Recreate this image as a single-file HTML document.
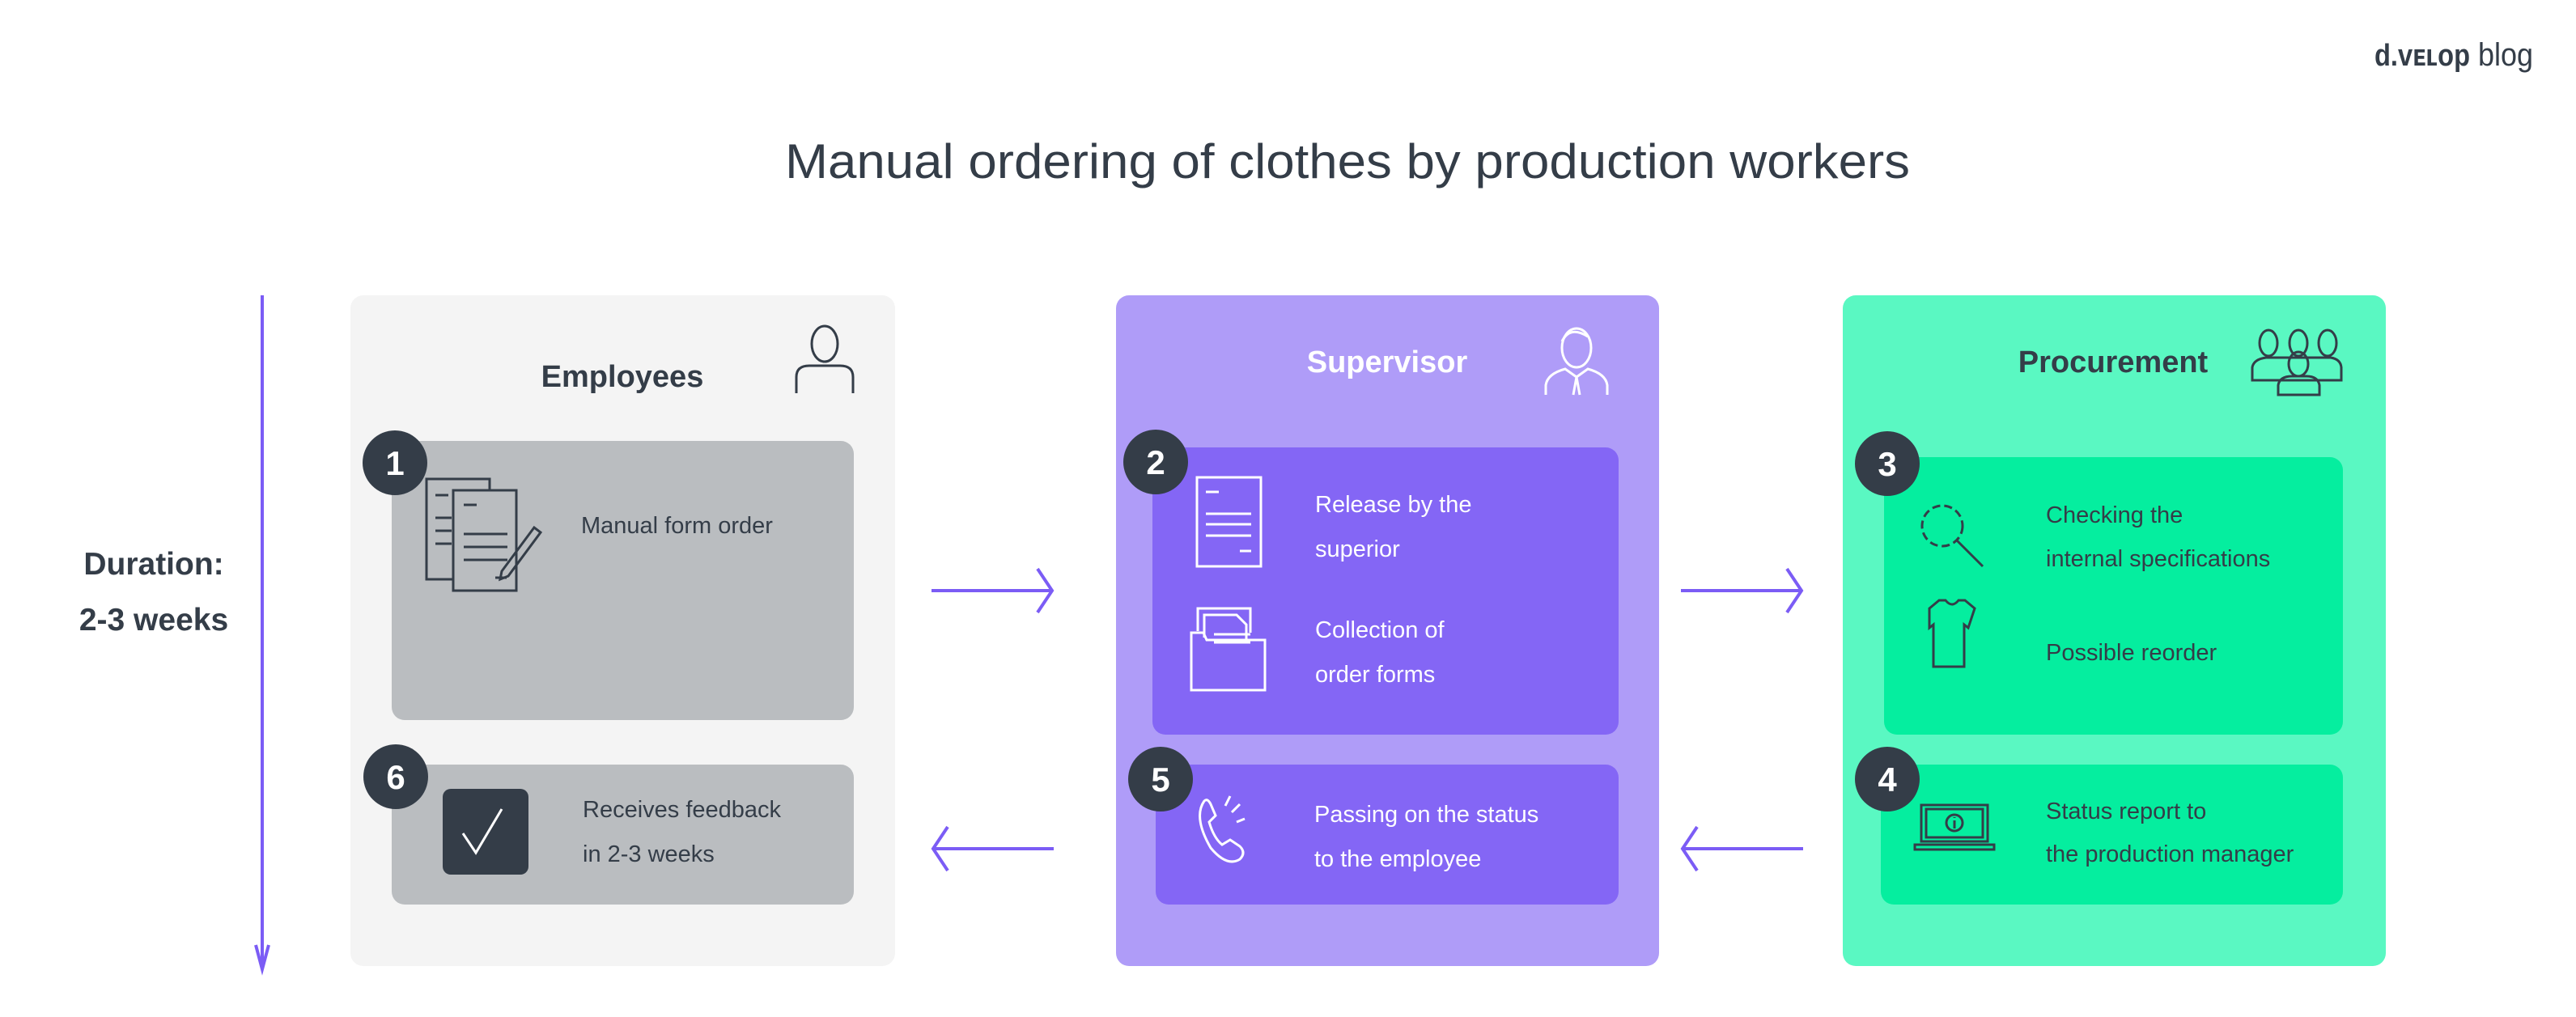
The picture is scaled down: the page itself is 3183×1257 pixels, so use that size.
<!DOCTYPE html>
<html><head><meta charset="utf-8"><style>
html,body{margin:0;padding:0;background:#fff;}
svg{display:block;}
text{font-family:"Liberation Sans",sans-serif;}
</style></head><body>
<svg width="3183" height="1257" viewBox="0 0 3183 1257" xmlns="http://www.w3.org/2000/svg">
<!-- logo -->
<text x="2934" y="81" font-size="38" fill="#343d48" font-weight="bold" textLength="118" lengthAdjust="spacingAndGlyphs">d.vᴇʟop</text>
<text x="3062" y="81" font-size="40" fill="#343d48" textLength="68" lengthAdjust="spacingAndGlyphs">blog</text>
<!-- title -->
<text x="1665" y="220" font-size="60" fill="#343d48" text-anchor="middle" textLength="1390" lengthAdjust="spacingAndGlyphs">Manual ordering of clothes by production workers</text>
<!-- duration -->
<line x1="324" y1="365" x2="324" y2="1196" stroke="#7b5cf5" stroke-width="4"/>
<polyline points="316,1168 324,1198 332,1168" fill="none" stroke="#7b5cf5" stroke-width="4"/>
<text x="190" y="710" font-size="39" font-weight="bold" fill="#343d48" text-anchor="middle">Duration:</text>
<text x="190" y="779" font-size="39" font-weight="bold" fill="#343d48" text-anchor="middle">2-3 weeks</text>
<!-- panels -->
<rect x="433" y="365" width="673" height="829" rx="16" fill="#f4f4f4"/>
<rect x="1379" y="365" width="671" height="829" rx="16" fill="#af9cf8"/>
<rect x="2277" y="365" width="671" height="829" rx="16" fill="#5af8c2"/>
<!-- headers -->
<text x="769" y="478" font-size="38" font-weight="bold" fill="#343d48" text-anchor="middle">Employees</text>
<text x="1714" y="460" font-size="38" font-weight="bold" fill="#fff" text-anchor="middle">Supervisor</text>
<text x="2611" y="460" font-size="38" font-weight="bold" fill="#343d48" text-anchor="middle">Procurement</text>
<!-- person icon -->
<g fill="none" stroke="#343d48" stroke-width="3">
<ellipse cx="1019" cy="425" rx="16" ry="22"/>
<path d="M984 486 V466 Q984 452 1000 452 H1038 Q1054 452 1054 466 V486"/>
</g>
<!-- supervisor icon -->
<g fill="none" stroke="#fff" stroke-width="3">
<ellipse cx="1948" cy="430" rx="18" ry="24"/>
<path d="M1930 422 Q1940 402 1962 416"/>
<path d="M1910 488 V476 Q1912 462 1934 456 L1948 466 L1962 456 Q1984 462 1986 476 V488"/>
<path d="M1948 466 L1944 488 M1948 466 L1952 488"/>
</g>
<!-- group icon -->
<g fill="none" stroke="#343d48" stroke-width="3">
<ellipse cx="2803" cy="424" rx="11" ry="16"/><ellipse cx="2840" cy="424" rx="11" ry="16"/><ellipse cx="2876" cy="424" rx="11" ry="16"/>
<path d="M2783 470 V454 Q2785 444 2800 442 H2880 Q2892 444 2893 454 V470 H2783Z"/>
<ellipse cx="2840" cy="450" rx="12" ry="15"/>
<path d="M2815 488 V476 Q2817 465 2832 465 H2850 Q2864 465 2866 476 V488Z"/>
</g>
<!-- cards -->
<rect x="484" y="545" width="571" height="345" rx="16" fill="#babdc0"/>
<rect x="484" y="945" width="571" height="173" rx="16" fill="#babdc0"/>
<rect x="1424" y="553" width="576" height="355" rx="16" fill="#8466f5"/>
<rect x="1428" y="945" width="572" height="173" rx="16" fill="#8466f5"/>
<rect x="2328" y="565" width="567" height="343" rx="16" fill="#05ee9f"/>
<rect x="2324" y="945" width="571" height="173" rx="16" fill="#05ee9f"/>
<!-- badges -->
<g fill="#343d48"><circle cx="488" cy="572" r="40"/><circle cx="489" cy="960" r="40"/><circle cx="1428" cy="571" r="40"/><circle cx="1434" cy="963" r="40"/><circle cx="2332" cy="573" r="40"/><circle cx="2332" cy="963" r="40"/></g>
<g fill="#fff" font-size="42" font-weight="bold" text-anchor="middle">
<text x="488" y="587">1</text><text x="489" y="975">6</text><text x="1428" y="586">2</text><text x="1434" y="978">5</text><text x="2332" y="588">3</text><text x="2332" y="978">4</text>
</g>
<!-- card1 -->
<g fill="none" stroke="#343d48" stroke-width="3">
<rect x="527" y="592" width="78" height="124"/>
<rect x="560" y="606" width="78" height="124" fill="#babdc0"/>
<path d="M538 612h16M538 640h20M538 656h20M538 672h20M573 624h16M573 660h54M573 676h54M573 692h54M612 714h14"/>
<path d="M620 706 L660 652 L668 658 L628 712 L618 716 Z"/>
</g>
<text x="718" y="659" font-size="29" fill="#343d48">Manual form order</text>
<!-- card6 -->
<rect x="547" y="975" width="106" height="106" rx="10" fill="#343d48"/>
<polyline points="572,1030 588,1054 620,1000" fill="none" stroke="#fff" stroke-width="3"/>
<text x="720" y="1010" font-size="29" fill="#343d48">Receives feedback</text>
<text x="720" y="1065" font-size="29" fill="#343d48">in 2-3 weeks</text>
<!-- card2 -->
<g fill="none" stroke="#fff" stroke-width="3">
<rect x="1479" y="590" width="79" height="110"/>
<path d="M1490 608h16M1490 635h56M1490 648h56M1490 662h56M1532 681h14"/>
<path d="M1472 782 h15 l4 9 h72 v62 h-91 Z"/>
<path d="M1480 780 V752 h65 v30"/>
<path d="M1488 788 V760 h40 l12 12 v20"/>
<path d="M1500 784h45M1500 794h45"/>
</g>
<g fill="#fff" font-size="29">
<text x="1625" y="633">Release by the</text>
<text x="1625" y="688">superior</text>
<text x="1625" y="788">Collection of</text>
<text x="1625" y="843">order forms</text>
</g>
<!-- card5 -->
<path d="M1488 990 Q1474 1010 1496 1048 Q1516 1072 1532 1062 Q1540 1054 1532 1046 L1520 1038 L1510 1044 Q1500 1036 1494 1016 L1502 1008 L1496 994 Q1492 986 1488 990Z" fill="none" stroke="#fff" stroke-width="3"/>
<path d="M1514 996l6-12M1522 1004l10-10M1528 1016l10-4" stroke="#fff" stroke-width="3"/>
<text x="1624" y="1016" font-size="29" fill="#fff">Passing on the status</text>
<text x="1624" y="1071" font-size="29" fill="#fff">to the employee</text>
<!-- card3 -->
<g fill="none" stroke="#343d48" stroke-width="3">
<circle cx="2400" cy="650" r="25" stroke-dasharray="10 5"/>
<path d="M2418 668 L2450 700"/>
<path d="M2384 752 l12-10 h8 q8 10 16 0 h8 l12 10 l-8 24 l-5 -4 v52 h-38 v-52 l-5 4 Z"/>
<path d="M2374 995 h82 v45 h-82Z M2380 1000 h70 v35 h-70Z M2366 1044 h98 v6 h-98Z"/>
<circle cx="2415" cy="1017" r="10"/><path d="M2415 1014v10M2415 1010v1"/>
</g>
<g fill="#343d48" font-size="29">
<text x="2528" y="646">Checking the</text>
<text x="2528" y="700">internal specifications</text>
<text x="2528" y="816">Possible reorder</text>
<text x="2528" y="1012">Status report to</text>
<text x="2528" y="1065">the production manager</text>
</g>
<!-- arrows -->
<g fill="none" stroke="#7b5cf5" stroke-width="4">
<path d="M1151 730 H1300 M1282 703 L1300 730 L1282 757"/>
<path d="M2077 730 H2226 M2208 703 L2226 730 L2208 757"/>
<path d="M1302 1049 H1153 M1171 1022 L1153 1049 L1171 1076"/>
<path d="M2228 1049 H2079 M2097 1022 L2079 1049 L2097 1076"/>
</g>
</svg>
</body></html>
